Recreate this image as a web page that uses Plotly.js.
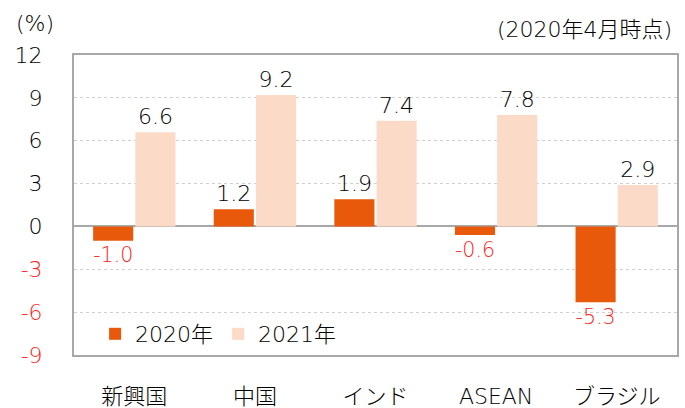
<!DOCTYPE html>
<html><head><meta charset="utf-8">
<script src="https://cdn.plot.ly/plotly-3.0.1.min.js"></script>
<style>body{margin:0;background:#fff}#chart{width:685px;height:408px}</style>
</head><body><div id="chart"></div>
<script>
const categories = ["新興国", "中国", "インド", "ASEAN", "ブラジル"];
const values2020 = [-1.0, 1.2, 1.9, -0.6, -5.3];
const values2021 = [6.6, 9.2, 7.4, 7.8, 2.9];
const tickVals = [12, 9, 6, 3, 0, -3, -6, -9];
const tickText = ["12", "9", "6", "3", "0", "<span style='fill:#ff1a1a'>-3</span>", "<span style='fill:#ff1a1a'>-6</span>", "<span style='fill:#ff1a1a'>-9</span>"];

const FONT = "'DejaVu Sans', 'Noto Sans CJK JP', sans-serif";
const FS = 22;
const W = 300;
const lab = v => v.toFixed(1);
const col = v => v < 0 ? "#ff1a1a" : "#000000";

const traces = [
  {type: "bar", name: "2020年", x: categories, y: values2020,
   marker: {color: "#E8590C"},
   text: values2020.map(lab), textposition: "outside", cliponaxis: false,
   textfont: {size: FS, color: values2020.map(col), family: FONT, weight: W}},
  {type: "bar", name: "2021年", x: categories, y: values2021,
   marker: {color: "#FCDAC8"},
   text: values2021.map(lab), textposition: "outside", cliponaxis: false,
   textfont: {size: FS, color: values2021.map(col), family: FONT, weight: W}}
];

const layout = {
  width: 685, height: 408,
  margin: {l: 74, r: 8, t: 55, b: 53},
  paper_bgcolor: "#fff", plot_bgcolor: "#fff",
  font: {family: FONT, size: FS, color: "#000", weight: W},
  barmode: "group", bargap: 0.3, bargroupgap: 0.05,
  showlegend: true,
  legend: {orientation: "h", x: 0.035, y: 0.0, xanchor: "left", yanchor: "bottom",
    font: {size: FS, family: FONT, weight: W, color: "#000"}, itemwidth: 30, bgcolor: "rgba(0,0,0,0)"},
  xaxis: {showline: true, linecolor: "#a8a8a8", linewidth: 2, mirror: true,
    ticks: "", tickfont: {size: FS, weight: W, color: "#000"}, ticklabelstandoff: 21, automargin: false},
  yaxis: {range: [-9, 12], tickvals: tickVals, ticktext: tickText, ticks: "",
    showgrid: true, gridcolor: "#cfcfcf", griddash: "dot", gridwidth: 1,
    zeroline: true, zerolinecolor: "#a8a8a8", zerolinewidth: 2,
    showline: true, linecolor: "#a8a8a8", linewidth: 2, mirror: true,
    tickfont: {size: FS, weight: W, color: "#000"}, ticklabelstandoff: 25, automargin: false},
  annotations: [
    {text: "(%)", xref: "paper", yref: "paper", x: -0.1, y: 1.104, xanchor: "left", yanchor: "middle", showarrow: false, font: {size: FS, weight: W, color: "#000"}},
    {text: "(2020年4月時点)", xref: "paper", yref: "paper", x: 0.995, y: 1.084, xanchor: "right", yanchor: "middle", showarrow: false, font: {size: FS, weight: W, color: "#000"}}
  ]
};

Plotly.newPlot("chart", traces, layout, {displayModeBar: false});
</script></body></html>
